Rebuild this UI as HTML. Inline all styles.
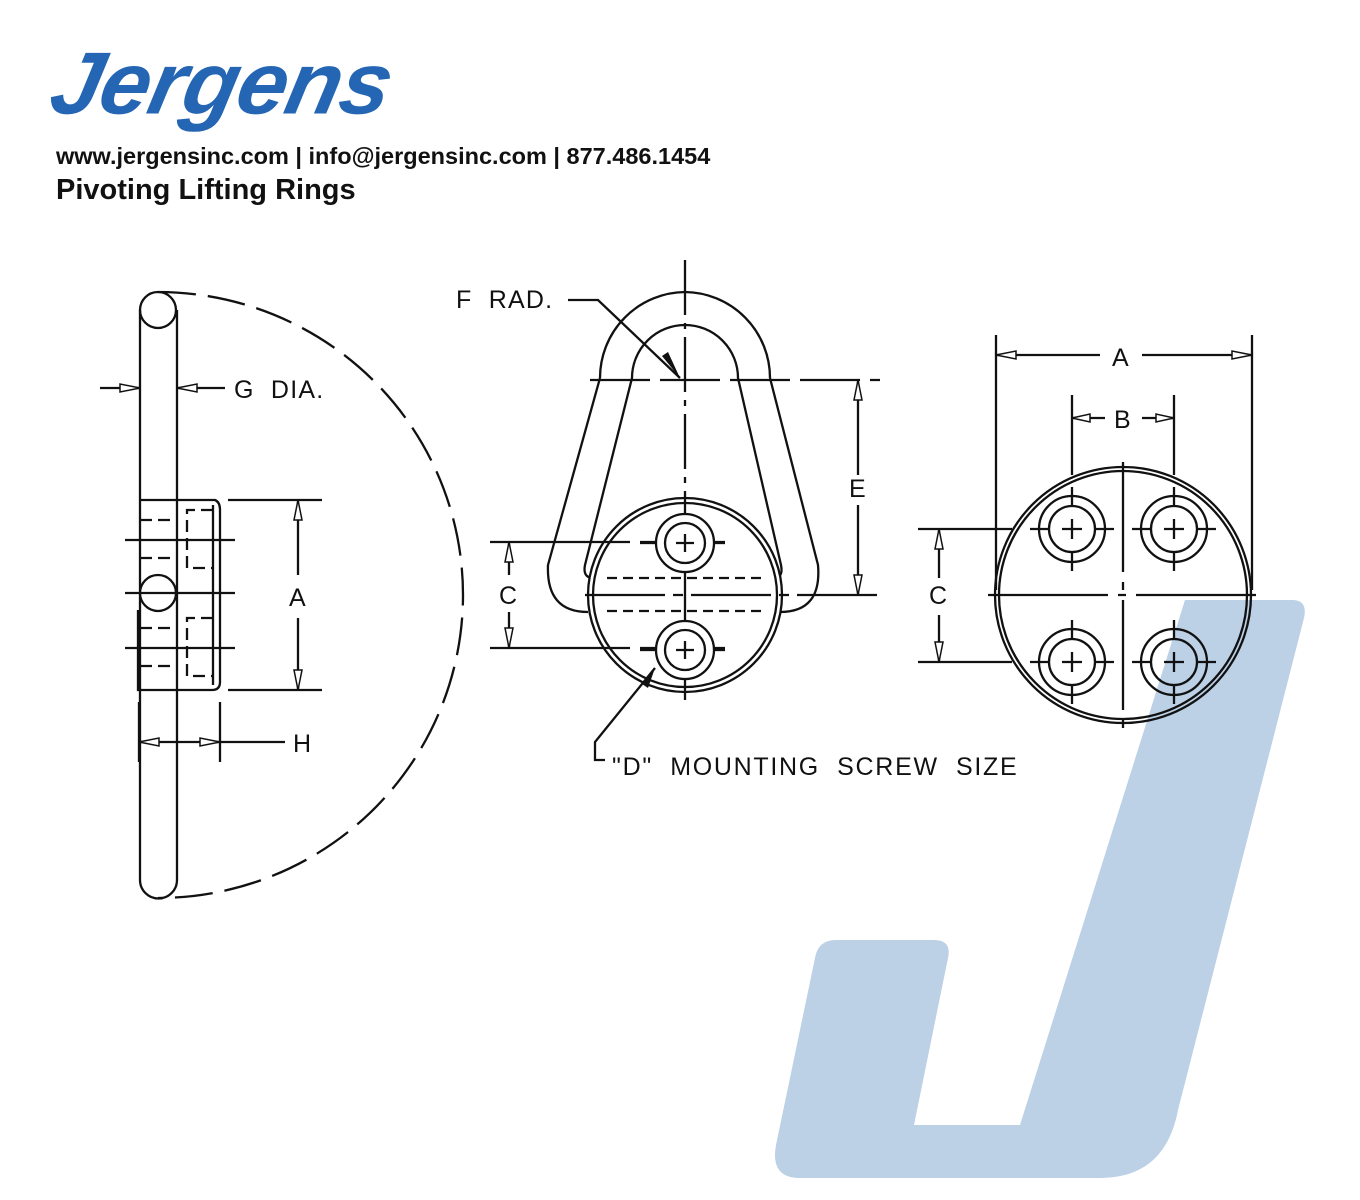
<!DOCTYPE html>
<html><head><meta charset="utf-8"><style>
html,body{margin:0;padding:0;background:#fff;}
body{width:1360px;height:1200px;position:relative;overflow:hidden;font-family:"Liberation Sans",sans-serif;}
.logo{position:absolute;left:62px;top:40px;font-size:90px;font-weight:bold;font-style:italic;color:#2566b4;letter-spacing:-1px;transform:skewX(-12deg) scaleY(0.98);transform-origin:left top;line-height:1;}
.l1{position:absolute;left:56px;top:143px;font-size:23.5px;font-weight:bold;color:#111;white-space:nowrap;}
.l2{position:absolute;left:56px;top:174px;font-size:29px;font-weight:bold;color:#111;white-space:nowrap;}
svg{position:absolute;left:0;top:0;}
</style></head><body>
<svg width="1360" height="1200" viewBox="0 0 1360 1200">
<defs>
<g id="h" fill="none" stroke="#111" stroke-width="2.3"><circle cx="0" cy="0" r="33"/><circle cx="0" cy="0" r="23"/><line x1="-42" y1="0" x2="-23" y2="0"/><line x1="23" y1="0" x2="42" y2="0"/><line x1="0" y1="-42" x2="0" y2="-23"/><line x1="0" y1="23" x2="0" y2="42"/><line x1="-10" y1="0" x2="10" y2="0"/><line x1="0" y1="-10" x2="0" y2="10"/></g>
<g id="m" fill="none" stroke="#111" stroke-width="2.3"><circle cx="0" cy="0" r="29"/><circle cx="0" cy="0" r="20"/><line x1="-9" y1="0" x2="9" y2="0"/><line x1="0" y1="-9" x2="0" y2="9"/></g>
</defs>
<path d="M1185 600 L1292 600 Q1308 600 1304 618 L1178 1110 Q1165 1178 1100 1178 L800 1178 Q770 1178 776 1145 L815 958 Q818 940 836 940 L934 940 Q952 940 948 958 L914 1125 L1020 1125 Z" fill="#bcd0e6"/>
<g fill="none" stroke="#111" stroke-width="2.3">
<path d="M158 292 A305 303 0 0 1 463 595 A305 303 0 0 1 158 898" stroke-dasharray="38 12"/>
<circle cx="158" cy="310" r="18"/>
<line x1="140" y1="310" x2="140" y2="880"/><line x1="177" y1="310" x2="177" y2="880"/>
<path d="M140 880 A18 18 0 0 0 177 880"/>
<path d="M140 500 L215 500 Q220 502 220 510 L220 682 Q220 690 212 690 L138 690 L138 610"/>
<line x1="213" y1="505" x2="213" y2="685"/>
<circle cx="158" cy="593" r="18" fill="#fff"/>
<g stroke-dasharray="12 6"><line x1="140" y1="520" x2="177" y2="520"/><line x1="140" y1="558" x2="177" y2="558"/><line x1="140" y1="628" x2="177" y2="628"/><line x1="140" y1="666" x2="177" y2="666"/>
<path d="M213 510 L187 510 L187 568 L213 568"/><path d="M213 618 L187 618 L187 676 L213 676"/></g>
<line x1="125" y1="540" x2="235" y2="540"/><line x1="125" y1="593" x2="235" y2="593"/><line x1="125" y1="648" x2="235" y2="648"/>
<line x1="228" y1="500" x2="322" y2="500"/><line x1="228" y1="690" x2="322" y2="690"/>
<line x1="298" y1="500" x2="298" y2="575"/><line x1="298" y1="618" x2="298" y2="690"/>
<line x1="100" y1="388" x2="140" y2="388"/><line x1="177" y1="388" x2="225" y2="388"/>
<line x1="139" y1="702" x2="139" y2="762"/><line x1="220" y1="702" x2="220" y2="762"/>
<line x1="139" y1="742" x2="285" y2="742"/>
<path d="M685 292 A86 86 0 0 1 770 378 M685 292 A86 86 0 0 0 600 378"/>
<path d="M770 378 L818 565 Q822 612 780 612 M600 378 L548 565 Q546 612 588 612"/>
<path d="M685 325 A53 53 0 0 1 738 378 L781 565 Q784 580 770 578 M685 325 A53 53 0 0 0 632 378 L585 565 Q582 580 598 578"/>
<circle cx="685" cy="595" r="97" fill="#fff"/><circle cx="685" cy="595" r="92"/>
<line x1="685" y1="260" x2="685" y2="700" stroke-dasharray="55 8 6 8"/>
<line x1="590" y1="380" x2="880" y2="380" stroke-dasharray="60 10"/>
<line x1="490" y1="542" x2="725" y2="542" stroke-dasharray="140 10"/><line x1="490" y1="648" x2="725" y2="648" stroke-dasharray="140 10"/>
<line x1="585" y1="595" x2="880" y2="595" stroke-dasharray="80 8 10 8"/>
<g stroke-dasharray="10 6"><line x1="607" y1="578" x2="763" y2="578"/><line x1="607" y1="611" x2="763" y2="611"/></g>
<line x1="858" y1="380" x2="858" y2="475"/><line x1="858" y1="505" x2="858" y2="595"/>
<line x1="509" y1="542" x2="509" y2="575"/><line x1="509" y1="612" x2="509" y2="648"/>
<path d="M568 300 L598 300 L680 378"/>
<path d="M655 668 L595 742 L595 760 L605 760"/>
<circle cx="1123" cy="595" r="128"/><circle cx="1123" cy="595" r="124"/>
<line x1="1123" y1="462" x2="1123" y2="728" stroke-dasharray="110 10 8 10"/>
<line x1="988" y1="595" x2="1258" y2="595" stroke-dasharray="120 10 8 10"/>
<line x1="996" y1="335" x2="996" y2="590"/><line x1="1252" y1="335" x2="1252" y2="590"/>
<line x1="996" y1="355" x2="1100" y2="355"/><line x1="1142" y1="355" x2="1252" y2="355"/>
<line x1="1072" y1="395" x2="1072" y2="475"/><line x1="1174" y1="395" x2="1174" y2="475"/>
<line x1="1072" y1="418" x2="1105" y2="418"/><line x1="1142" y1="418" x2="1174" y2="418"/>
<line x1="918" y1="529" x2="1012" y2="529"/><line x1="918" y1="662" x2="1012" y2="662"/>
<line x1="939" y1="529" x2="939" y2="578"/><line x1="939" y1="615" x2="939" y2="662"/>
</g>
<circle cx="685" cy="543" r="29" fill="#fff"/><circle cx="685" cy="650" r="29" fill="#fff"/>
<use href="#m" x="685" y="543"/><use href="#m" x="685" y="650"/>
<line x1="640" y1="543" x2="656" y2="543" stroke="#111" stroke-width="2.3"/><line x1="714" y1="543" x2="725" y2="543" stroke="#111" stroke-width="2.3"/>
<line x1="640" y1="650" x2="656" y2="650" stroke="#111" stroke-width="2.3"/><line x1="714" y1="650" x2="725" y2="650" stroke="#111" stroke-width="2.3"/>
<use href="#h" x="1072" y="529"/><use href="#h" x="1174" y="529"/><use href="#h" x="1072" y="662"/><use href="#h" x="1174" y="662"/>
<g fill="#fff" stroke="#111" stroke-width="1.5">
<path d="M140 388 L120 384 L120 392Z"/><path d="M177 388 L197 384 L197 392Z"/>
<path d="M298 500 L294 520 L302 520Z"/><path d="M298 690 L294 670 L302 670Z"/>
<path d="M139 742 L159 738 L159 746Z"/><path d="M220 742 L200 738 L200 746Z"/>
<path d="M858 380 L854 400 L862 400Z"/><path d="M858 595 L854 575 L862 575Z"/>
<path d="M509 542 L505 562 L513 562Z"/><path d="M509 648 L505 628 L513 628Z"/>
<path d="M996 355 L1016 351 L1016 359Z"/><path d="M1252 355 L1232 351 L1232 359Z"/>
<path d="M1072 418 L1090 414 L1090 422Z"/><path d="M1174 418 L1156 414 L1156 422Z"/>
<path d="M939 529 L935 549 L943 549Z"/><path d="M939 662 L935 642 L943 642Z"/>
</g>
<path d="M680 378 L662 356 L668 352Z M655 668 L642 684 L648 688Z" fill="#111"/>
<g font-family="Liberation Sans, sans-serif" font-size="25" fill="#111" letter-spacing="1.2">
<text x="234" y="398">G&#160;&#160;DIA.</text>
<text x="289" y="606">A</text>
<text x="293" y="752">H</text>
<text x="456" y="308">F&#160;&#160;RAD.</text>
<text x="849" y="497">E</text>
<text x="499" y="604">C</text>
<text x="612" y="775" letter-spacing="1.7">"D"&#160;&#160;MOUNTING&#160;&#160;SCREW&#160;&#160;SIZE</text>
<text x="1112" y="366">A</text>
<text x="1114" y="428">B</text>
<text x="929" y="604">C</text>
</g>
</svg>
<div class="logo">Jergens</div>
<div class="l1">www.jergensinc.com | info@jergensinc.com | 877.486.1454</div>
<div class="l2">Pivoting Lifting Rings</div>
</body></html>
